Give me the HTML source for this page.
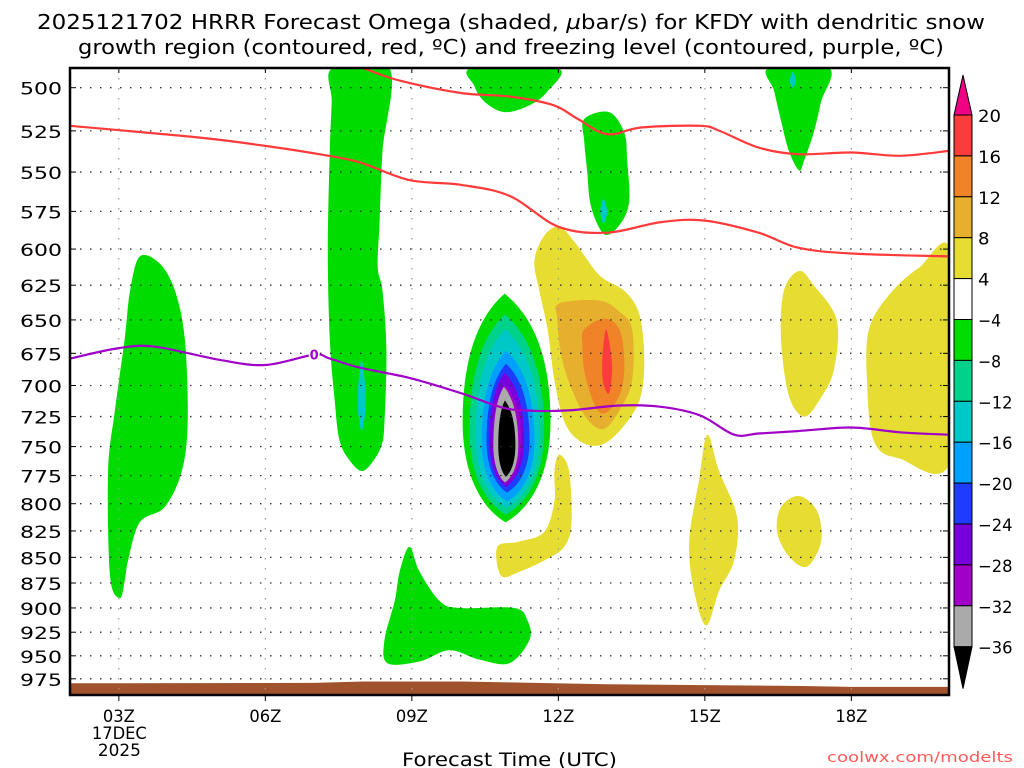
<!DOCTYPE html>
<html><head><meta charset="utf-8"><style>
html,body{margin:0;padding:0;background:#fff;}
svg{display:block;font-family:"DejaVu Sans","Liberation Sans",sans-serif;}
</style></head><body>
<svg id="chart" width="1024" height="768" viewBox="0 0 1024 768">
<text x="37" y="29" textLength="948" lengthAdjust="spacingAndGlyphs" font-size="20" fill="#000">2025121702 HRRR Forecast Omega (shaded, <tspan font-style="italic">µ</tspan>bar/s) for KFDY with dendritic snow</text>
<text x="78" y="54" textLength="866" lengthAdjust="spacingAndGlyphs" font-size="20" fill="#000">growth region (contoured, red, ºC) and freezing level (contoured, purple, ºC)</text>
<g id="plot"></g>
<text x="402" y="766" textLength="215" lengthAdjust="spacingAndGlyphs" font-size="19">Forecast Time (UTC)</text>
<text x="827" y="762" textLength="186" lengthAdjust="spacingAndGlyphs" font-size="14.5" fill="#ff5a5a">coolwx.com/modelts</text>
</svg>
<script>
// ---- data ----
const pLevels=[500,525,550,575,600,625,650,675,700,725,750,775,800,825,850,875,900,925,950,975];
const hourTicks=[3,6,9,12,15,18];
const hourLabels=["03Z","06Z","09Z","12Z","15Z","18Z"];
const cbLevels=[20,16,12,8,4,-4,-8,-12,-16,-20,-24,-28,-32,-36];
const cbColors=["#fa3c3c","#f08228","#e6af2d","#e6dc32","#ffffff","#00dc00","#00d28c","#00c8c8","#00a0ff","#1e3cff","#7800dc","#a000c8","#aaaaaa"];
const dgzUpper=[[8,489],[8.75,496],[10,503],[11,505],[11.9,510],[12.4,518],[13,527],[13.7,523],[14.9,522],[15.3,525],[16.1,535],[16.9,539],[18,538],[19,540],[20,537]];
const dgzLower=[[2,522],[4.66,529],[6,534],[7.1,539],[7.93,544],[8.95,555],[10,558],[11,565],[12,585],[13,589],[14.1,582],[15,581],[16.1,589],[16.9,599],[18,603],[20,605]];
const freezeLine=[[2,679],[3,671],[3.74,670],[5.07,680],[6,684],[7,676],[7.32,679],[7.93,686],[8.95,694],[10,706],[10.8,717],[11.3,720],[12.2,720],[13.25,716],[14.1,717],[14.9,724],[15.6,740],[16.1,739],[16.9,737],[18,734],[19,738],[20,740]];
const terrain=[[2,980],[7,979.5],[8,978],[10,978],[11,979],[13,981],[15,982],[17,983],[18,984],[20,984]];
const blobs=[
 {c:"#00dc00",pts:[[3.43,605],[3.84,610],[4.15,629],[4.35,664],[4.41,729],[4.29,771],[3.94,803],[3.43,817],[3.19,853],[3.12,873],[3.02,890],[2.82,868],[2.78,771],[2.92,720],[3.12,664],[3.23,629]]},
 {c:"#00dc00",pts:[[7.38,489],[8.54,489],[8.40,537],[8.34,582],[8.30,612],[8.40,629],[8.48,672],[8.44,729],[8.38,749],[8.18,764],[7.97,771],[7.73,762],[7.52,745],[7.42,712],[7.32,664],[7.28,601],[7.32,537],[7.36,508]]},
 {c:"#00dc00",pts:[[10.24,489],[11.98,489],[11.78,502],[11.41,510],[10.9,514],[10.49,508],[10.28,499]]},
 {c:"#00dc00",pts:[[12.53,518],[13.04,514],[13.35,526],[13.41,543],[13.45,569],[13.25,584],[12.94,590],[12.67,572],[12.59,549],[12.53,531]]},
 {c:"#00dc00",pts:[[16.31,489],[17.54,489],[17.38,508],[17.23,526],[17.03,543],[16.93,549],[16.72,537],[16.56,519],[16.42,502]]},
 {c:"#00dc00",pts:[[8.95,840],[9.16,864],[9.57,893],[9.98,900],[11.1,900],[11.37,913],[11.41,933],[11,958],[10.38,954],[9.77,944],[9.16,956],[8.5,958],[8.44,933],[8.65,893],[8.75,864]]},
 {c:"#00c8c8",pts:[[7.97,680],[8.06,712],[7.97,737],[7.89,712]]},
 {c:"#00c8c8",pts:[[12.92,567],[13.0,575],[12.92,583],[12.86,575]]},
 {c:"#00c8c8",pts:[[16.8,491],[16.86,496],[16.8,500],[16.74,496]]},
 {c:"#e6dc32",pts:[[11.71,591],[12.02,585],[12.33,595],[12.84,618],[13.35,629],[13.66,646],[13.76,680],[13.66,712],[13.25,737],[12.84,749],[12.43,745],[12.12,729],[11.92,696],[11.78,657],[11.61,629],[11.51,608]]},
 {c:"#e6af2d",pts:[[12.02,638],[12.84,636],[13.25,644],[13.51,657],[13.51,696],[13.25,720],[12.94,735],[12.63,729],[12.33,708],[12.08,680],[11.98,650]]},
 {c:"#f08228",pts:[[12.53,657],[12.94,649],[13.25,657],[13.35,680],[13.29,704],[13.04,720],[12.84,721],[12.67,708],[12.53,688],[12.49,668]]},
 {c:"#fa3c3c",pts:[[12.98,657],[13.1,684],[13.04,706],[12.92,698],[12.9,680]]},
 {c:"#e6dc32",pts:[[12.02,757],[12.22,771],[12.27,817],[12.12,840],[11.71,853],[11.2,864],[10.83,868],[10.75,840],[11.2,835],[11.71,826],[11.92,798],[11.92,771]]},
 {c:"#e6dc32",pts:[[15.05,740],[15.29,771],[15.66,812],[15.6,853],[15.29,883],[15.03,918],[14.78,883],[14.68,835],[14.88,779]]},
 {c:"#e6dc32",pts:[[16.93,615],[17.23,625],[17.7,650],[17.64,688],[17.34,712],[17.03,725],[16.72,708],[16.56,664],[16.62,629]]},
 {c:"#e6dc32",pts:[[16.93,793],[17.3,807],[17.38,835],[17.09,859],[16.72,849],[16.48,826],[16.56,803]]},
 {c:"#e6dc32",pts:[[20.05,604],[20.05,760],[18.97,760],[18.46,745],[18.32,696],[18.36,657],[18.77,632],[19.38,613]]}
];
// central downdraft lens layers
const lensColors=["#00dc00","#00d28c","#00c8c8","#00a0ff","#1e3cff","#7800dc","#a000c8","#aaaaaa","#000000"];
const lensTopP=[631,646,657,673,683,690,700,701,712];
const lensBotP=[817,810,804,798,790,785,782,781,776];
const lensMidP=[729,737,741,745,745,745,745,749,749];
const lensLeftH=[10.04,10.18,10.3,10.43,10.53,10.59,10.65,10.67,10.77];
const lensRightH=[11.84,11.71,11.61,11.51,11.41,11.3,11.24,11.18,11.12];

// ---- axes ----
const X0=70,X1=949,Y0=68,Y1=695,H0=2,H1=20,P0=489,P1=993;
const xs=h=>X0+(h-H0)/(H1-H0)*(X1-X0);
const ys=p=>Y0+Math.log(p/P0)/Math.log(P1/P0)*(Y1-Y0);
const NS="http://www.w3.org/2000/svg";
const plot=document.getElementById('plot');
function mk(tag,attrs,parent){const e=document.createElementNS(NS,tag);for(const k in attrs)e.setAttribute(k,attrs[k]);(parent||plot).appendChild(e);return e;}
function smooth(pts,closed){
 const P=pts.map(q=>[xs(q[0]),ys(q[1])]);const n=P.length;let d="M"+P[0][0].toFixed(1)+","+P[0][1].toFixed(1);
 const last=closed?n:n-1;
 for(let i=0;i<last;i++){
  const p0=P[closed?(i-1+n)%n:Math.max(i-1,0)],p1=P[i],p2=P[(i+1)%n],p3=P[closed?(i+2)%n:Math.min(i+2,n-1)];
  const c1=[p1[0]+(p2[0]-p0[0])/6,p1[1]+(p2[1]-p0[1])/6],c2=[p2[0]-(p3[0]-p1[0])/6,p2[1]-(p3[1]-p1[1])/6];
  d+="C"+c1[0].toFixed(1)+","+c1[1].toFixed(1)+" "+c2[0].toFixed(1)+","+c2[1].toFixed(1)+" "+p2[0].toFixed(1)+","+p2[1].toFixed(1);
 }
 return d+(closed?"Z":"");
}
const defs=mk('defs',{});
const cp=mk('clipPath',{id:'clip'},defs);mk('rect',{x:X0,y:Y0,width:X1-X0,height:Y1-Y0},cp);
const g=mk('g',{'clip-path':'url(#clip)'});



blobs.forEach((b,i)=>{
 const e=mk('path',{d:smooth(b.pts,true),fill:b.c},g);
 
 
});
lensColors.forEach((c,i)=>{
 const cx=(lensLeftH[i]+lensRightH[i])/2;
 const tx=xs(cx-0.04),ty=ys(lensTopP[i]),bx=xs(cx-0.02),by=ys(lensBotP[i]);
 const lx=xs(lensLeftH[i]),rx=xs(lensRightH[i]),my=ys(lensMidP[i]);
 const d=`M${tx},${ty} C${tx+(rx-tx)*0.7},${ty+(my-ty)*0.2} ${rx},${my-(my-ty)*0.45} ${rx},${my} C${rx},${my+(by-my)*0.5} ${bx+(rx-bx)*0.6},${by-(by-my)*0.15} ${bx},${by} C${bx-(bx-lx)*0.6},${by-(by-my)*0.15} ${lx},${my+(by-my)*0.5} ${lx},${my} C${lx},${my-(my-ty)*0.45} ${tx-(tx-lx)*0.7},${ty+(my-ty)*0.2} ${tx},${ty}Z`;
 const e=mk('path',{d:d,fill:c},g);
 
 
});
// terrain
{
 let d="M"+xs(H0)+","+Y1;terrain.forEach(q=>{d+="L"+xs(q[0]).toFixed(1)+","+ys(q[1]).toFixed(1);});d+="L"+xs(H1)+","+Y1+"Z";
 const e=mk('path',{d:d,fill:"#a0522d"},g);
 
 
}
// grid
pLevels.forEach(p=>{
 const e=mk('line',{x1:X0,x2:X1,y1:ys(p),y2:ys(p),stroke:"#333",'stroke-width':1.3,'stroke-dasharray':"1.5 8.5"},g);
 
 
});
hourTicks.forEach(h=>{
 const e=mk('line',{x1:xs(h),x2:xs(h),y1:Y0,y2:Y1,stroke:"#999",'stroke-width':1.2,'stroke-dasharray':"1.5 8.5"},g);
 
 
});
// contour lines
[[dgzUpper,"#ff3a3a","dgz-upper-line"],[dgzLower,"#ff3a3a","dgz-lower-line"],[freezeLine,"#a000c8","freezing-level-line"]].forEach(L=>{
 const e=mk('path',{d:smooth(L[0],false),fill:"none",stroke:L[1],'stroke-width':2.2},g);
 
 
});
{
 const t=mk('text',{x:xs(7),y:ys(676)+5,'text-anchor':'middle','font-size':13,'font-weight':'bold',fill:"#a000c8",stroke:"#fff",'stroke-width':3,'paint-order':'stroke'},g);
 t.textContent="0";
 
 
}
// frame
{
 const e=mk('rect',{x:X0,y:Y0,width:X1-X0,height:Y1-Y0,fill:"none",stroke:"#000",'stroke-width':2.5});
 
 
}
pLevels.forEach(p=>{
 mk('line',{x1:X0,x2:X0+6,y1:ys(p),y2:ys(p),stroke:"#000",'stroke-width':1});
 mk('line',{x1:X1-6,x2:X1,y1:ys(p),y2:ys(p),stroke:"#000",'stroke-width':1});
 const t=mk('text',{x:20,y:ys(p)+7,'font-size':17,textLength:42,lengthAdjust:'spacingAndGlyphs'});
 t.textContent=p;
 
 
});
hourTicks.forEach((h,i)=>{
 mk('line',{x1:xs(h),x2:xs(h),y1:Y1,y2:Y1+6,stroke:"#000",'stroke-width':1});
 mk('line',{x1:xs(h),x2:xs(h),y1:Y0,y2:Y0+5,stroke:"#000",'stroke-width':1});
 const t=mk('text',{x:xs(h)-16,y:722,'font-size':17,textLength:32,lengthAdjust:'spacingAndGlyphs'});
 t.textContent=hourLabels[i];
 
 
});
{
 const t1=mk('text',{x:xs(3)-27,y:739,'font-size':17,textLength:55,lengthAdjust:'spacingAndGlyphs'});t1.textContent="17DEC";
 
 
 const t2=mk('text',{x:xs(3)-21,y:756,'font-size':17,textLength:43,lengthAdjust:'spacingAndGlyphs'});t2.textContent="2025";
 
 
}
// colorbar
const CBX=954,CBW=18,CBT=115,CBS=40.9;
const cb=mk('g',{});


{
 const e=mk('path',{d:`M${CBX},${CBT} L${CBX+CBW/2},${CBT-40} L${CBX+CBW},${CBT}Z`,fill:"#f00082",stroke:"#000",'stroke-width':1},cb);
 
 
}
cbColors.forEach((c,i)=>{
 const e=mk('rect',{x:CBX,y:CBT+i*CBS,width:CBW,height:CBS,fill:c,stroke:"#000",'stroke-width':1},cb);
 
 
});
{
 const yb=CBT+cbColors.length*CBS;
 const e=mk('path',{d:`M${CBX},${yb} L${CBX+CBW/2},${yb+42} L${CBX+CBW},${yb}Z`,fill:"#000",stroke:"#000",'stroke-width':1},cb);
 
 
}
cbLevels.forEach((v,i)=>{
 const s=v<0?"\u2212"+(-v):String(v);
 const w=s.length*11.5;
 const t=mk('text',{x:978,y:CBT+i*CBS+7,'font-size':17,textLength:w,lengthAdjust:'spacingAndGlyphs'},cb);
 t.textContent=s;
 
 
});
</script>
</body></html>
